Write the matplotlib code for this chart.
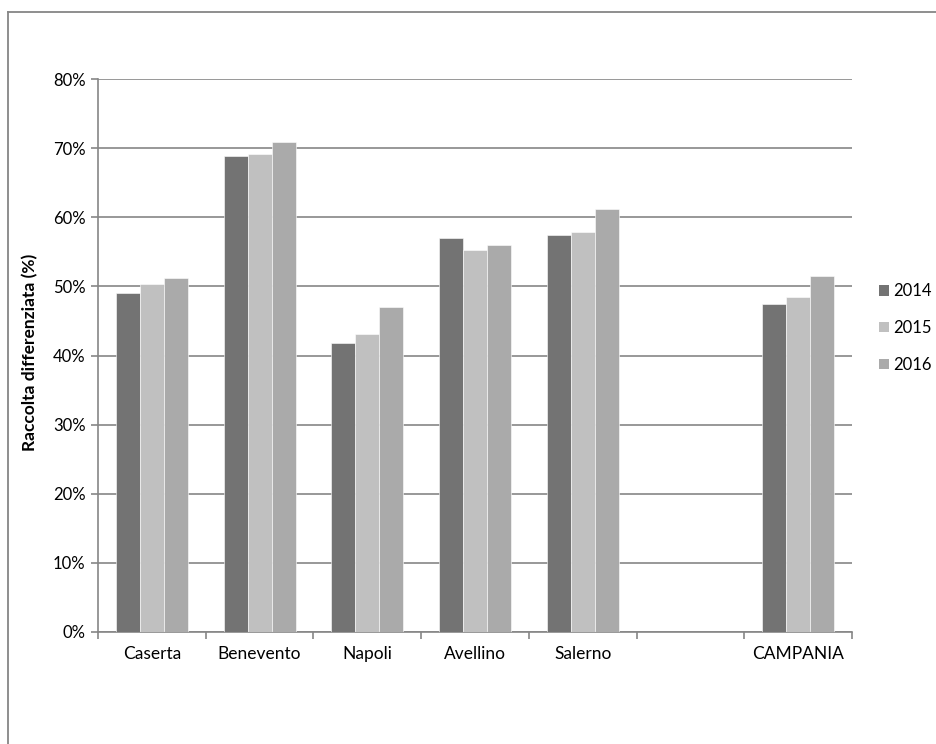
import matplotlib.pyplot as plt
import numpy as np
from matplotlib.patches import Patch
from matplotlib.lines import Line2D

# data (percent)
provinces = ['Caserta', 'Benevento', 'Napoli', 'Avellino', 'Salerno', '', 'CAMPANIA']
years = ['2014', '2015', '2016']
v2014 = [49.1, 68.8, 41.8, 57.0, 57.4, np.nan, 47.5]
v2015 = [50.4, 69.2, 43.1, 55.3, 57.8, np.nan, 48.5]
v2016 = [51.2, 70.9, 47.0, 56.0, 61.2, np.nan, 51.5]
colors = ['#737373', '#c0c0c0', '#aaaaaa']

plt.rcParams['font.family'] = ['Lato', 'DejaVu Sans']

fig = plt.figure(figsize=(9.36, 7.44), dpi=100)
ax = fig.add_axes([98 / 936, 1 - 632 / 744, (852 - 98) / 936, (632 - 79) / 744])

x = np.arange(len(provinces))
w = 0.223
for i, (vals, c) in enumerate(zip([v2014, v2015, v2016], colors)):
    ax.bar(x + (i - 1) * w, vals, width=w, color=c, edgecolor='white',
           linewidth=0.4, zorder=3)

grid_c = '#868686'
ax.set_xlim(-0.5, len(provinces) - 0.5)
ax.set_ylim(0, 80)
ax.set_yticks(np.arange(0, 81, 10))
ax.set_yticklabels([f'{t}%' for t in range(0, 81, 10)], fontsize=12)
ax.yaxis.grid(True, color=grid_c, linewidth=1.2, zorder=0)
ax.tick_params(axis='y', direction='out', length=5, color=grid_c, width=1.2, pad=4)

ax.set_xticks(x)
ax.set_xticklabels(provinces, fontsize=12.5)
ax.set_xticks(np.arange(-0.5, len(provinces), 1), minor=True)
ax.tick_params(axis='x', which='major', length=0, pad=10)
ax.tick_params(axis='x', which='minor', direction='out', length=5, color=grid_c, width=1.2)

for s in ['top', 'right']:
    ax.spines[s].set_visible(False)
for s in ['left', 'bottom']:
    ax.spines[s].set_color(grid_c)
    ax.spines[s].set_linewidth(1.2)

fig.text(30 / 936, 1 - 352 / 744, 'Raccolta differenziata (%)', rotation=90,
         fontsize=12.5, fontweight='bold', ha='center', va='center')

handles = [Patch(facecolor=c, edgecolor='none') for c in colors]
fig.legend(handles, years, loc='center left', bbox_to_anchor=(879 / 936, 1 - 328 / 744),
           frameon=False, fontsize=12, handlelength=0.6, handleheight=0.6,
           handletextpad=0.25, labelspacing=1.25, borderpad=0, borderaxespad=0)

# outer chart border (top and left only visible)
fig.add_artist(Line2D([8 / 936, 8 / 936], [0, 1 - 12 / 744], transform=fig.transFigure,
                      color=grid_c, linewidth=1.3))
fig.add_artist(Line2D([8 / 936, 1], [1 - 12 / 744, 1 - 12 / 744], transform=fig.transFigure,
                      color=grid_c, linewidth=1.3))

fig.savefig('out.png', dpi=100)
